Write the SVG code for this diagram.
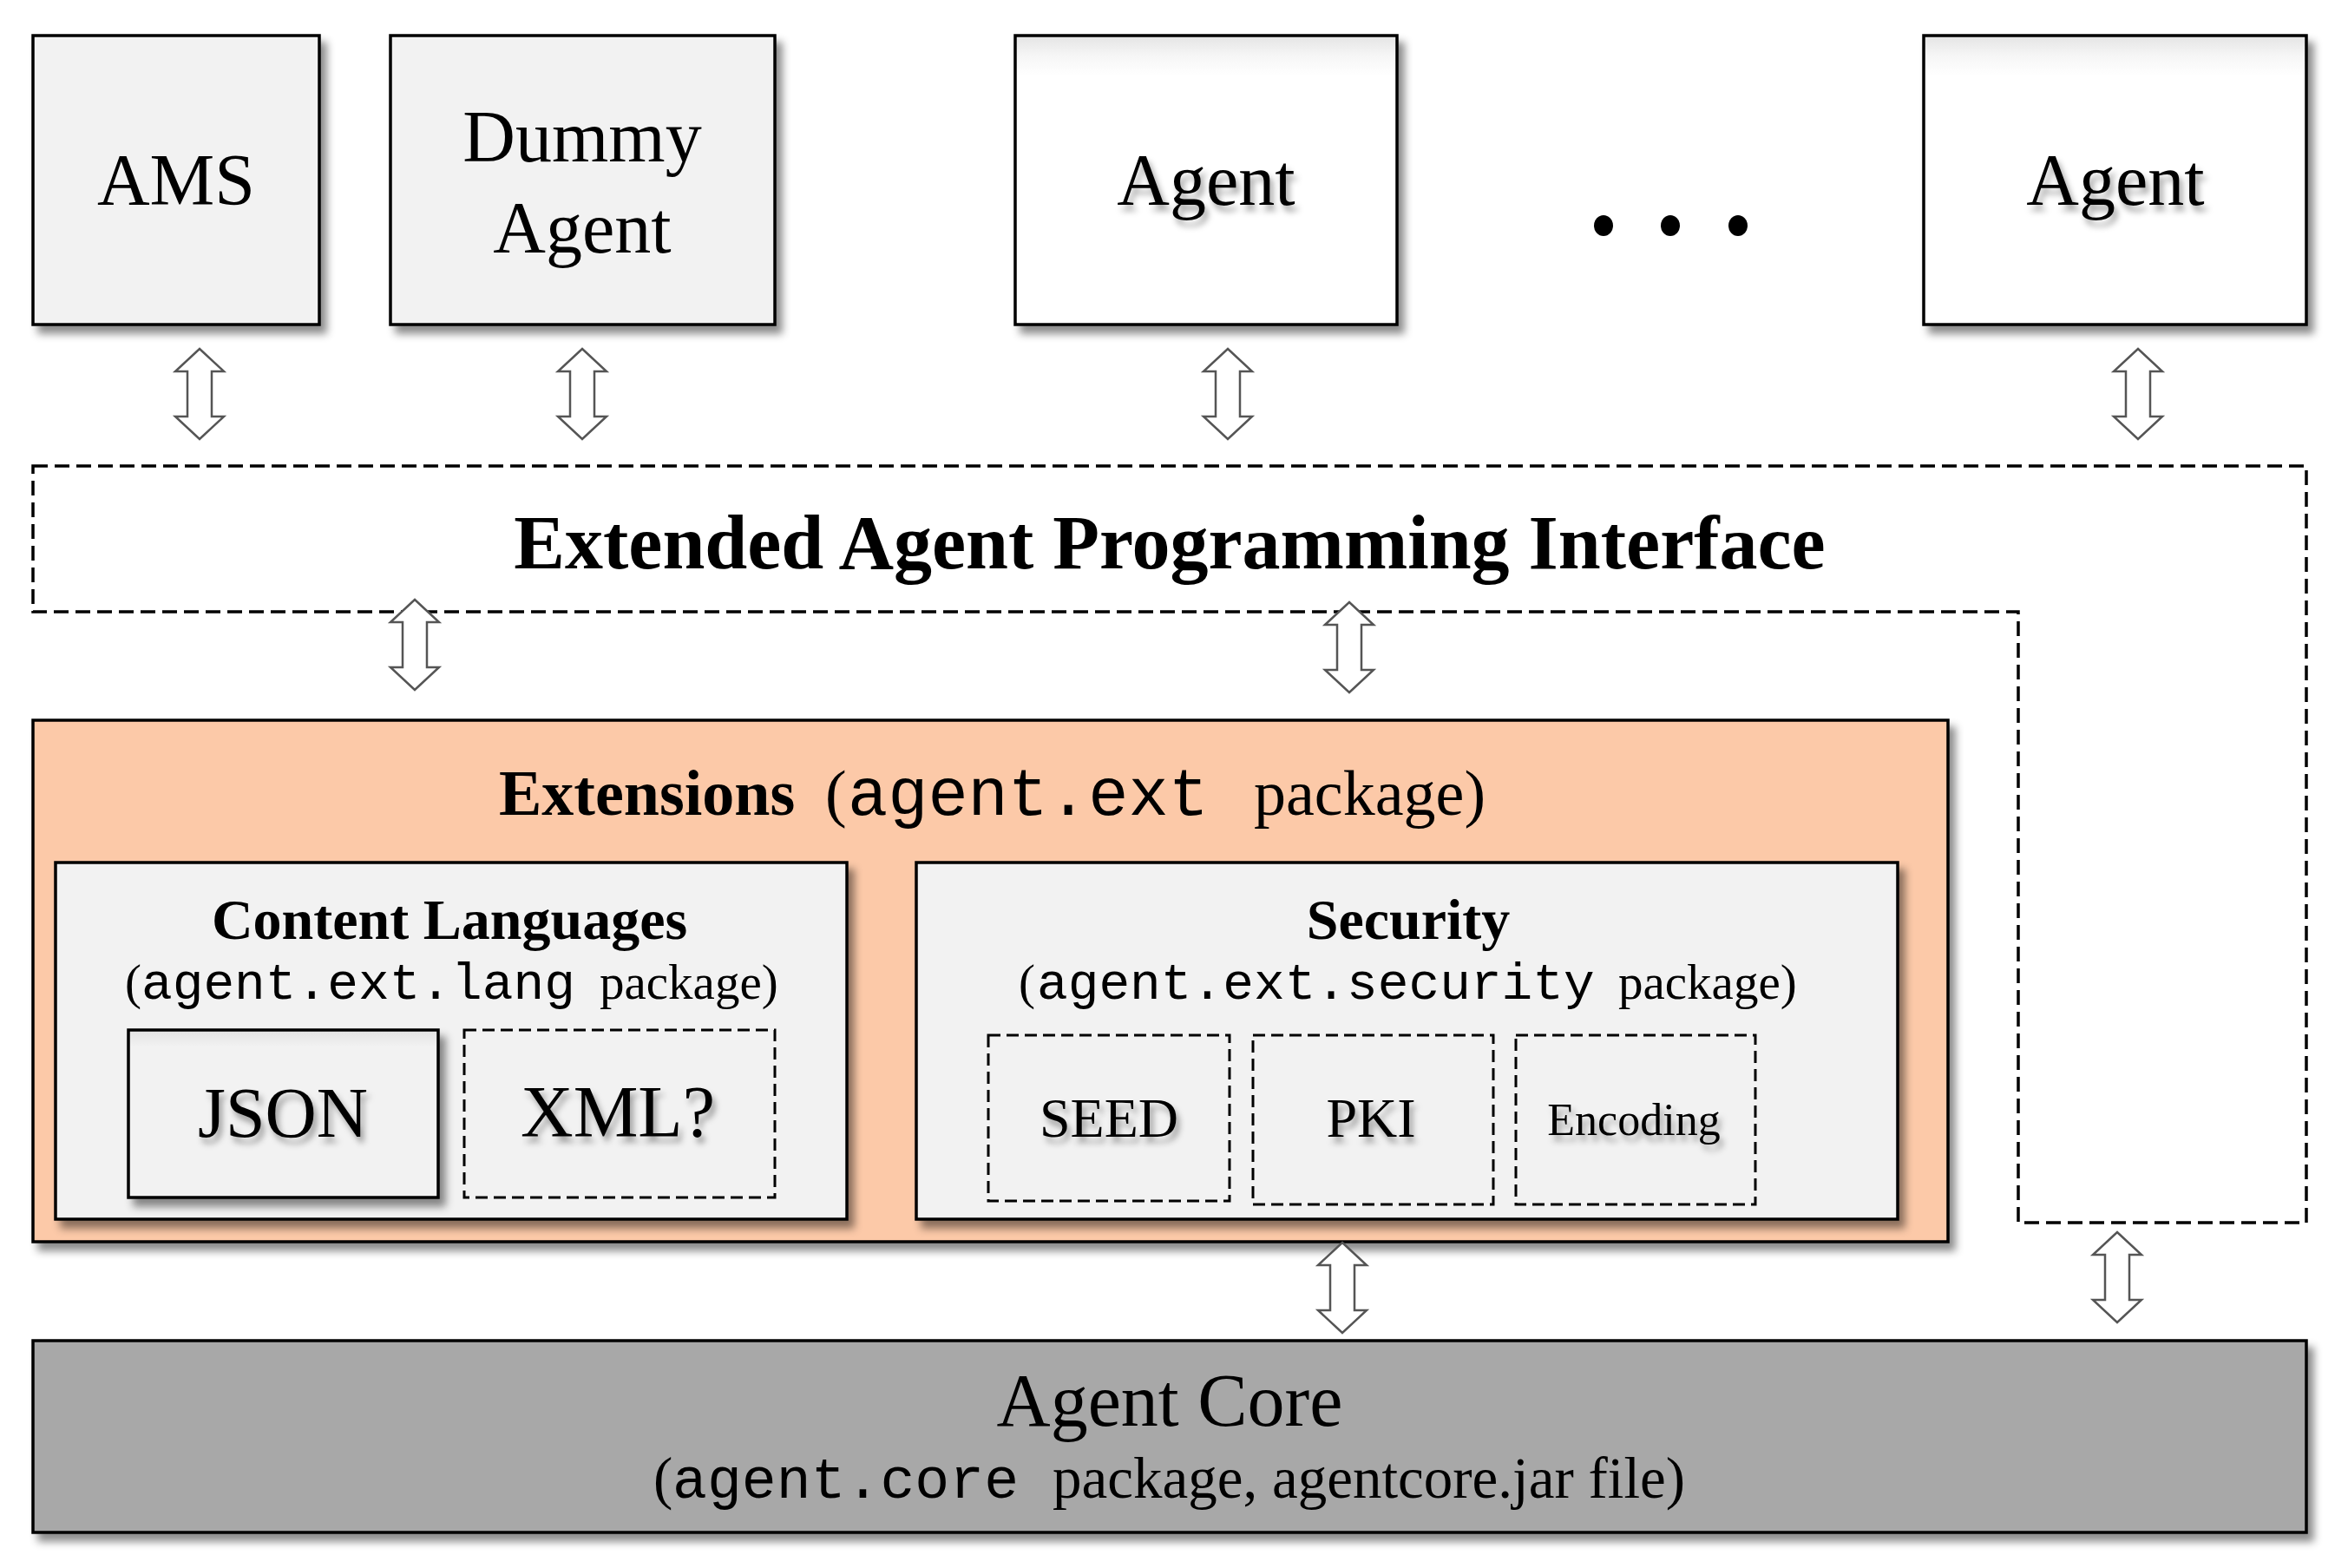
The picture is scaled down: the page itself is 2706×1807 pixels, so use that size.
<svg xmlns="http://www.w3.org/2000/svg" width="2706" height="1807" viewBox="0 0 2706 1807">
<defs>
<style>
.serif{font-family:"Liberation Serif","Times New Roman",serif;fill:#000}
.mono{font-family:"Liberation Mono","Courier New",monospace;fill:#000}
.bold{font-weight:bold}
.box{stroke:#000;stroke-width:3.5}
.gray{fill:#f2f2f2}
.dash{fill:none;stroke:#000;stroke-width:3.5;stroke-dasharray:17 8}
.dashbox{fill:#f2f2f2;stroke:#000;stroke-width:3;stroke-dasharray:14 7}
.arrow{fill:#fff;stroke:#555;stroke-width:2.5;stroke-linejoin:miter}
.mid{text-anchor:middle}
</style>
<filter id="sh" x="-10%" y="-10%" width="130%" height="140%">
<feDropShadow dx="7" dy="9" stdDeviation="5" flood-color="#000" flood-opacity="0.45"/>
</filter>
<filter id="tsh" x="-10%" y="-20%" width="130%" height="160%">
<feDropShadow dx="4" dy="7" stdDeviation="3.5" flood-color="#000" flood-opacity="0.35"/>
</filter>
<linearGradient id="inner" x1="0" y1="0" x2="0" y2="1">
<stop offset="0" stop-color="#e4e4e4"/>
<stop offset="0.07" stop-color="#f6f6f6"/>
<stop offset="0.14" stop-color="#ffffff"/>
<stop offset="1" stop-color="#ffffff"/>
</linearGradient>
<linearGradient id="innerg" x1="0" y1="0" x2="0" y2="1">
<stop offset="0" stop-color="#e2e2e2"/>
<stop offset="0.1" stop-color="#f2f2f2"/>
<stop offset="1" stop-color="#f2f2f2"/>
</linearGradient>
<path id="arr" d="M0,0 L28,26 L14,26 L14,78 L28,78 L0,104 L-28,78 L-14,78 L-14,26 L-28,26 Z"/>
</defs>
<rect width="2706" height="1807" fill="#fff"/>

<g id="ams">
<rect class="box gray" x="38" y="41" width="330" height="333" filter="url(#sh)"/>
<text class="serif mid" x="203" y="236" font-size="84">AMS</text>
</g>
<g id="dummy-agent">
<rect class="box gray" x="450" y="41" width="443" height="333" filter="url(#sh)"/>
<text class="serif mid" x="671" y="186" font-size="84">Dummy</text>
<text class="serif mid" x="671" y="291" font-size="84">Agent</text>
</g>
<g id="agent1">
<rect class="box" fill="url(#inner)" x="1170" y="41" width="440" height="333" filter="url(#sh)"/>
<text class="serif mid" x="1390" y="236" font-size="84" filter="url(#tsh)">Agent</text>
</g>
<g id="ellipsis">
<ellipse cx="1848" cy="260" rx="11" ry="12" fill="#000"/>
<ellipse cx="1925" cy="260" rx="11" ry="12" fill="#000"/>
<ellipse cx="2003" cy="260" rx="11" ry="12" fill="#000"/>
</g>
<g id="agent2">
<rect class="box" fill="url(#inner)" x="2217" y="41" width="441" height="333" filter="url(#sh)"/>
<text class="serif mid" x="2438" y="236" font-size="84" filter="url(#tsh)">Agent</text>
</g>

<g id="api">
<path class="dash" d="M38,537 L2658,537 L2658,1409 L2326,1409 L2326,705 L38,705 Z"/>
<text class="serif bold mid" x="1348" y="655" font-size="88">Extended Agent Programming Interface</text>
</g>

<g id="extensions">
<rect class="box" fill="#fcc9a8" x="38" y="830" width="2207" height="601" filter="url(#sh)"/>
<text class="serif" y="939" font-size="74"><tspan class="bold" x="575">Extensions</tspan><tspan x="951">(</tspan><tspan class="mono" x="977" font-size="77">agent.ext</tspan><tspan x="1445">package)</tspan></text>
</g>

<g id="content-languages">
<rect class="box gray" x="64" y="994" width="912" height="411" filter="url(#sh)"/>
<text class="serif bold mid" x="518" y="1082" font-size="66">Content Languages</text>
<text class="serif" y="1151" font-size="57"><tspan x="144">(</tspan><tspan class="mono" x="163" font-size="59.5">agent.ext.lang</tspan><tspan x="691">package)</tspan></text>
</g>
<g id="json">
<rect class="box" fill="url(#innerg)" x="148" y="1187" width="357" height="193" filter="url(#sh)"/>
<text class="serif mid" x="326" y="1310" font-size="82" filter="url(#tsh)">JSON</text>
</g>
<g id="xml">
<rect class="dashbox" fill="url(#innerg)" x="535" y="1187" width="358" height="193"/>
<text class="serif mid" x="712" y="1310" font-size="84" filter="url(#tsh)">XML?</text>
</g>

<g id="security">
<rect class="box gray" x="1056" y="994" width="1131" height="411" filter="url(#sh)"/>
<text class="serif bold mid" x="1623" y="1082" font-size="66">Security</text>
<text class="serif" y="1151" font-size="57"><tspan x="1174">(</tspan><tspan class="mono" x="1195" font-size="59.5">agent.ext.security</tspan><tspan x="1865">package)</tspan></text>
</g>
<g id="seed">
<rect class="dashbox" x="1139" y="1193" width="278" height="191"/>
<text class="serif mid" x="1278" y="1310" font-size="64" filter="url(#tsh)">SEED</text>
</g>
<g id="pki">
<rect class="dashbox" x="1444" y="1193" width="277" height="195"/>
<text class="serif mid" x="1580" y="1310" font-size="64" filter="url(#tsh)">PKI</text>
</g>
<g id="encoding">
<rect class="dashbox" x="1747" y="1193" width="276" height="195"/>
<text class="serif mid" x="1883" y="1308" font-size="52" filter="url(#tsh)">Encoding</text>
</g>

<g id="agent-core">
<rect class="box" fill="#a8a8a8" x="38" y="1545" width="2620" height="221" filter="url(#sh)"/>
<text class="serif mid" x="1348" y="1643" font-size="86">Agent Core</text>
<text class="serif" y="1726" font-size="67"><tspan x="753">(</tspan><tspan class="mono" x="775" font-size="66.5">agent.core</tspan><tspan x="1213">package, agentcore.jar file)</tspan></text>
</g>

<g id="connectors">
<use href="#arr" class="arrow" transform="translate(230,402)"/>
<use href="#arr" class="arrow" transform="translate(671,402)"/>
<use href="#arr" class="arrow" transform="translate(1415,402)"/>
<use href="#arr" class="arrow" transform="translate(2464,402)"/>
<use href="#arr" class="arrow" transform="translate(478,691)"/>
<use href="#arr" class="arrow" transform="translate(1555,694)"/>
<use href="#arr" class="arrow" transform="translate(1547,1432)"/>
<use href="#arr" class="arrow" transform="translate(2440,1420)"/>
</g>
</svg>
